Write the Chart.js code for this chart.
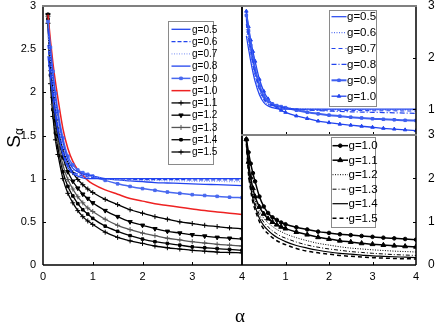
<!DOCTYPE html>
<html>
<head>
<meta charset="utf-8">
<script src="https://cdn.jsdelivr.net/npm/chart.js@4.4.1/dist/chart.umd.min.js"></script>
<style>
body{margin:0;background:#fff;width:436px;height:327px;overflow:hidden;position:relative;font-family:"Liberation Sans Narrow","Liberation Sans",Arial,sans-serif;}
canvas{position:absolute;}
#main{left:0;top:0;}
#top{left:236px;top:0;}
#bot{left:236px;top:129px;}
#ytitle{position:absolute;left:-6px;top:128px;width:40px;height:20px;line-height:20px;text-align:center;transform:rotate(-90deg);font-family:"Liberation Sans",Arial,sans-serif;font-size:19px;color:#000;}
#ytitle sub{font-size:12px;vertical-align:-3px;}
#xtitle{position:absolute;left:228px;top:305px;width:24px;text-align:center;font-family:"Liberation Serif","DejaVu Serif",serif;font-size:19px;color:#000;}
</style>
</head>
<body>
<canvas id="main" width="250" height="327"></canvas>
<canvas id="top" width="200" height="141"></canvas>
<canvas id="bot" width="200" height="198"></canvas>
<div id="ytitle">S<sub>α</sub></div>
<div id="xtitle">α</div>
<script>
// values
const alpha = [0.1, 0.15, 0.2, 0.25, 0.3, 0.4, 0.5, 0.6, 0.7, 0.8, 0.9, 1.0, 1.25, 1.5, 1.75, 2.0, 2.25, 2.5, 2.75, 3.0, 3.25, 3.5, 3.75, 4.0];

const g05 = [2.42, 2.17, 1.93, 1.72, 1.54, 1.28, 1.13, 1.06, 1.03, 1.01, 1.0, 1.0, 1.0, 1.0, 1.0, 1.0, 1.0, 1.0, 1.0, 1.0, 1.0, 1.0, 1.0, 1.0];
const g06 = [2.55, 2.28, 2.02, 1.8, 1.61, 1.33, 1.16, 1.08, 1.05, 1.03, 1.02, 1.01, 1.0, 1.0, 0.995, 0.99, 0.99, 0.99, 0.99, 0.985, 0.985, 0.985, 0.985, 0.985];
const g07 = [2.65, 2.37, 2.1, 1.87, 1.67, 1.38, 1.19, 1.1, 1.06, 1.04, 1.03, 1.02, 1.0, 0.99, 0.985, 0.98, 0.98, 0.975, 0.975, 0.97, 0.97, 0.97, 0.965, 0.965];
const g08 = [2.74, 2.45, 2.17, 1.93, 1.72, 1.42, 1.22, 1.12, 1.08, 1.05, 1.04, 1.03, 1.0, 0.985, 0.975, 0.965, 0.955, 0.95, 0.945, 0.94, 0.935, 0.93, 0.925, 0.92];
const g09 = [2.82, 2.52, 2.24, 1.99, 1.78, 1.47, 1.26, 1.16, 1.1, 1.07, 1.05, 1.03, 0.98, 0.94, 0.91, 0.885, 0.865, 0.845, 0.83, 0.815, 0.805, 0.795, 0.785, 0.78];
const g10 = [2.9, 2.6, 2.34, 2.12, 1.93, 1.58, 1.35, 1.2, 1.1, 1.04, 0.98, 0.94, 0.87, 0.82, 0.77, 0.74, 0.71, 0.69, 0.67, 0.65, 0.63, 0.615, 0.6, 0.585];
const g11 = [2.9, 2.38, 2.02, 1.77, 1.58, 1.34, 1.18, 1.07, 0.99, 0.93, 0.88, 0.84, 0.76, 0.7, 0.64, 0.6, 0.56, 0.53, 0.5, 0.48, 0.46, 0.445, 0.43, 0.42];
const g12 = [2.9, 2.3, 1.93, 1.67, 1.5, 1.25, 1.08, 0.97, 0.89, 0.82, 0.77, 0.72, 0.63, 0.56, 0.5, 0.46, 0.42, 0.39, 0.37, 0.35, 0.335, 0.32, 0.31, 0.3];
const g13 = [2.88, 2.25, 1.86, 1.6, 1.43, 1.16, 0.99, 0.88, 0.79, 0.72, 0.66, 0.62, 0.53, 0.46, 0.41, 0.37, 0.34, 0.31, 0.29, 0.27, 0.255, 0.24, 0.23, 0.22];
const g14 = [2.85, 2.2, 1.8, 1.53, 1.36, 1.08, 0.91, 0.8, 0.71, 0.64, 0.59, 0.54, 0.45, 0.39, 0.34, 0.3, 0.27, 0.25, 0.23, 0.21, 0.2, 0.19, 0.18, 0.17];
const g15 = [2.8, 2.1, 1.72, 1.45, 1.28, 1.0, 0.83, 0.72, 0.63, 0.56, 0.51, 0.47, 0.38, 0.32, 0.28, 0.25, 0.22, 0.2, 0.185, 0.17, 0.16, 0.15, 0.145, 0.14];

const xTicks = [0, 1, 2, 3, 4];
const mainYTicks = [0, 0.5, 1, 1.5, 2, 2.5, 3];
const topYTicks = [1, 2, 3];
const botYTicks = [0, 1, 2, 3];

const BLUE = '#2244ee';
const pts = vals => vals.map((v, i) => ({ x: alpha[i], y: v }));

function series(label, vals, color, extra) {
    return Object.assign({
        label: label,
        data: pts(vals),
        borderColor: color,
        backgroundColor: color,
        pointBorderColor: color,
        pointBackgroundColor: color,
        borderWidth: 1.3,
        pointRadius: 0,
        pointBorderWidth: 1,
        cubicInterpolationMode: 'monotone',
        fill: false
    }, extra || {});
}

// fixed tick list, and no extra label padding pushed into the layout
function fixedTicks(list) {
    return s => { s.ticks = list.map(v => ({ value: v })); };
}
function fitTo(prop, size) {
    return s => {
        s[prop] = size;
        s.paddingTop = 0; s.paddingBottom = 0; s.paddingLeft = 0; s.paddingRight = 0;
    };
}

// inside tick marks + frame lines
const framePlugin = {
    id: 'frame',
    afterDatasetsDraw(chart, args, o) {
        const ctx = chart.ctx, a = chart.chartArea;
        const xs = chart.scales.x, ys = chart.scales.y;
        const line = (x1, y1, x2, y2) => { ctx.beginPath(); ctx.moveTo(x1, y1); ctx.lineTo(x2, y2); ctx.stroke(); };
        ctx.save();
        ctx.strokeStyle = '#000';
        ctx.lineWidth = 1;
        (o.xt || []).forEach(v => {
            const px = Math.round(xs.getPixelForValue(v)) + 0.5;
            line(px, a.bottom, px, a.bottom - 3);
        });
        (o.yt || []).forEach(v => {
            const py = Math.round(ys.getPixelForValue(v)) + 0.5;
            if (o.right) line(a.right, py, a.right - 3, py);
            else line(a.left, py, a.left + 3, py);
        });
        const side = (s, x1, y1, x2, y2) => {
            if (!s) return;
            ctx.strokeStyle = s[0];
            ctx.lineWidth = s[1];
            line(x1, y1, x2, y2);
        };
        side(o.left, a.left, a.top, a.left, a.bottom);
        side(o.right2, a.right, a.top, a.right, a.bottom);
        side(o.bottom, a.left, a.bottom, a.right, a.bottom);
        side(o.top, a.left - 1, a.top, a.right + 1, a.top);
        ctx.restore();
    }
};

// boxed legend placed inside the plot
const legendBox = {
    id: 'legendBox',
    afterDraw(chart, args, o) {
        if (!o.box) return;
        const ctx = chart.ctx, b = o.box;
        ctx.save();
        ctx.fillStyle = '#fff';
        ctx.fillRect(b.x, b.y, b.w, b.h);
        ctx.strokeStyle = '#8a8a8a';
        ctx.lineWidth = 1;
        ctx.strokeRect(b.x + 0.5, b.y + 0.5, b.w, b.h);
        chart.data.datasets.forEach((ds, i) => {
            const y = b.y + o.first + i * o.step;
            const x0 = b.x + o.x0, x1 = b.x + o.x1;
            ctx.strokeStyle = ds.borderColor;
            ctx.lineWidth = ds.borderWidth;
            ctx.setLineDash(ds.borderDash || []);
            ctx.beginPath();
            ctx.moveTo(x0, y);
            ctx.lineTo(x1, y);
            ctx.stroke();
            ctx.setLineDash([]);
            if (ds.pointRadius > 0 && Chart.helpers && Chart.helpers.drawPoint) {
                ctx.fillStyle = ds.borderColor;
                ctx.lineWidth = 1;
                Chart.helpers.drawPoint(ctx, { pointStyle: ds.pointStyle, radius: ds.pointRadius, rotation: ds.pointRotation || 0, borderWidth: 1 }, (x0 + x1) / 2, y);
            }
            ctx.fillStyle = '#000';
            ctx.font = o.font;
            ctx.textBaseline = 'middle';
            ctx.fillText(ds.label, b.x + o.tx, y + 0.5);
        });
        ctx.restore();
    }
};

Chart.defaults.color = '#000';
Chart.defaults.font.family = '"Liberation Sans Narrow","Liberation Sans",Arial,sans-serif';

const noGrid = { display: false, drawTicks: false };
const tickFont = { size: 11, lineHeight: 1 };
const plainLabel = v => String(v);
const baseOpts = {
    responsive: false,
    animation: false,
    events: [],
    plugins: { legend: { display: false }, tooltip: { enabled: false } }
};

// main panel
new Chart(document.getElementById('main'), {
    type: 'line',
    data: {
        datasets: [
            series('g=0.5', g05, BLUE),
            series('g=0.6', g06, BLUE, { borderDash: [4, 2] }),
            series('g=0.7', g07, '#93a5f6', { borderDash: [1, 1.5] }),
            series('g=0.8', g08, BLUE),
            series('g=0.9', g09, '#4868ef', { borderWidth: 1.5, pointRadius: 1.8, pointStyle: 'rect' }),
            series('g=1.0', g10, '#ee2222', { borderWidth: 1.5 }),
            series('g=1.1', g11, '#000', { pointRadius: 2.5, pointStyle: 'cross' }),
            series('g=1.2', g12, '#000', { pointRadius: 2.5, pointStyle: 'triangle', pointRotation: 180 }),
            series('g=1.3', g13, '#555', { pointRadius: 2.5, pointStyle: 'cross' }),
            series('g=1.4', g14, '#000', { pointRadius: 1.8, pointStyle: 'rect' }),
            series('g=1.5', g15, '#000', { pointRadius: 2.5, pointStyle: 'cross' })
        ]
    },
    options: Object.assign({}, baseOpts, {
        layout: { padding: { top: 6, right: 8, left: 0, bottom: 0 } },
        scales: {
            x: {
                type: 'linear', min: 0, max: 4,
                afterFit: fitTo('height', 62),
                afterBuildTicks: fixedTicks(xTicks),
                grid: noGrid, border: { display: false },
                ticks: { padding: 6, font: tickFont, maxRotation: 0, callback: plainLabel }
            },
            y: {
                min: 0, max: 3,
                afterFit: fitTo('width', 43),
                afterBuildTicks: fixedTicks(mainYTicks),
                grid: noGrid, border: { display: false },
                ticks: { padding: 7, font: tickFont, callback: plainLabel }
            }
        },
        plugins: Object.assign({}, baseOpts.plugins, {
            frame: { xt: [1, 2, 3], yt: [0.5, 1, 1.5, 2, 2.5], left: ['#000', 1.5], right2: ['#000', 1.5], bottom: ['#000', 1.5], top: ['#808080', 2] },
            legendBox: { box: { x: 168, y: 21, w: 45, h: 143 }, first: 8.3, step: 12.27, x0: 3.5, x1: 22.5, tx: 24, font: '10px "Liberation Sans Narrow","Liberation Sans",Arial,sans-serif' }
        })
    }),
    plugins: [framePlugin, legendBox]
});

// upper inset, g = 0.5 ... 1.0
new Chart(document.getElementById('top'), {
    type: 'line',
    data: {
        datasets: [
            series('g=0.5', g05, BLUE, { borderWidth: 1.2 }),
            series('g=0.6', g06, '#5a74f2', { borderWidth: 1.2, borderDash: [1, 1.5] }),
            series('g=0.7', g07, BLUE, { borderWidth: 1.2, borderDash: [4, 3] }),
            series('g=0.8', g08, BLUE, { borderWidth: 1.2, borderDash: [5, 2, 1, 2] }),
            series('g=0.9', g09, '#3f60f0', { borderWidth: 2, pointRadius: 1.8, pointStyle: 'rect' }),
            series('g=1.0', g10, BLUE, { borderWidth: 1.3, pointRadius: 2, pointStyle: 'triangle' })
        ]
    },
    options: Object.assign({}, baseOpts, {
        layout: { padding: { top: 6, right: 0, left: 6, bottom: 6 } },
        scales: {
            x: { type: 'linear', min: 0, max: 4, display: false },
            y: {
                position: 'right', min: 0.5, max: 3,
                afterFit: fitTo('width', 20),
                afterBuildTicks: fixedTicks(topYTicks),
                grid: noGrid, border: { display: false },
                ticks: { padding: 12, font: { size: 12, lineHeight: 1 }, callback: plainLabel }
            }
        },
        plugins: Object.assign({}, baseOpts.plugins, {
            frame: { right: true, xt: [1, 2, 3], yt: [1, 2], left: ['#000', 1.5], right2: ['#000', 1.5], bottom: ['#808080', 2], top: ['#808080', 2] },
            legendBox: { box: { x: 93, y: 10, w: 47, h: 96 }, first: 6.7, step: 15.9, x0: 2.5, x1: 17.5, tx: 18, font: '11.5px "Liberation Sans Narrow","Liberation Sans",Arial,sans-serif' }
        })
    }),
    plugins: [framePlugin, legendBox]
});

// lower inset, g = 1.0 ... 1.5
new Chart(document.getElementById('bot'), {
    type: 'line',
    data: {
        datasets: [
            series('g=1.0', g10, '#000', { borderWidth: 1.5, pointRadius: 1.8, pointStyle: 'circle' }),
            series('g=1.1', g11, '#000', { borderWidth: 1.5, pointRadius: 2.8, pointStyle: 'triangle' }),
            series('g=1.2', g12, '#000', { borderWidth: 1, borderDash: [1, 1.5] }),
            series('g=1.3', g13, '#000', { borderWidth: 1, borderDash: [4, 2, 1, 2] }),
            series('g=1.4', g14, '#000', { borderWidth: 1.2 }),
            series('g=1.5', g15, '#000', { borderWidth: 1.5, borderDash: [4, 3] })
        ]
    },
    options: Object.assign({}, baseOpts, {
        layout: { padding: { top: 6, right: 0, left: 6, bottom: 0 } },
        scales: {
            x: {
                type: 'linear', min: 0, max: 4,
                afterFit: fitTo('height', 62),
                afterBuildTicks: fixedTicks(xTicks),
                grid: noGrid, border: { display: false },
                ticks: { padding: 6, font: tickFont, maxRotation: 0, callback: v => (v === 0 ? '' : String(v)) }
            },
            y: {
                position: 'right', min: 0, max: 3,
                afterFit: fitTo('width', 20),
                afterBuildTicks: fixedTicks(botYTicks),
                grid: noGrid, border: { display: false },
                ticks: { padding: 12, font: { size: 12, lineHeight: 1 }, callback: plainLabel }
            }
        },
        plugins: Object.assign({}, baseOpts.plugins, {
            frame: { right: true, xt: [1, 2, 3], yt: [1, 2], left: ['#000', 1.5], right2: ['#000', 1.5], bottom: ['#000', 1.5], top: ['#808080', 2] },
            legendBox: { box: { x: 95, y: 8, w: 44, h: 90 }, first: 8.7, step: 14.5, x0: 1.5, x1: 17, tx: 17.5, font: '11.5px "Liberation Sans Narrow","Liberation Sans",Arial,sans-serif' }
        })
    }),
    plugins: [framePlugin, legendBox]
});
</script>
</body>
</html>
